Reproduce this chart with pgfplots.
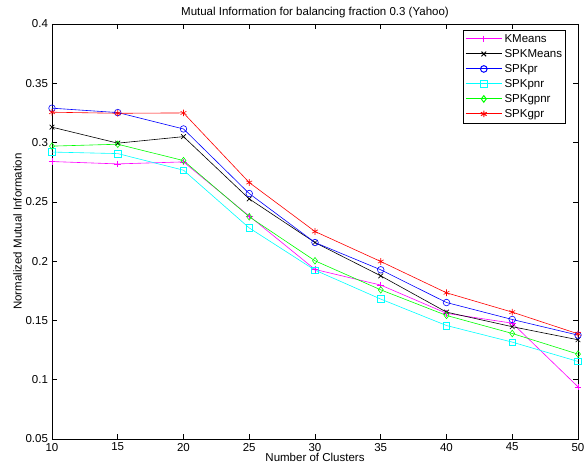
\documentclass[border=0pt]{standalone}
\usepackage{fontspec}
\setmainfont{Liberation Sans}
\usepackage{pgfplots}
\pgfplotsset{compat=1.18}
\definecolor{matmagenta}{RGB}{255,0,255}
\definecolor{matcyan}{RGB}{0,255,255}
\definecolor{matgreen}{RGB}{0,255,0}
\definecolor{matblue}{RGB}{0,0,255}
\definecolor{matred}{RGB}{255,0,0}
\begin{document}
\fontsize{11.5}{13.5}\selectfont
\begin{tikzpicture}
\useasboundingbox (-52pt,-37pt) rectangle (535pt,439pt);
\begin{axis}[
  at={(0pt,0pt)}, anchor=south west,
  scale only axis, width=526pt, height=415pt,
  xmin=10, xmax=50, ymin=0.05, ymax=0.4,
  xtick={10,15,...,50},
  ytick={0.05,0.1,0.15,0.2,0.25,0.3,0.35,0.4},
  yticklabels={0.05,0.1,0.15,0.2,0.25,0.3,0.35,0.4},
  tick align=inside, major tick length=5pt,
  xtick pos=both, ytick pos=both,
  axis line style={line width=0.9pt},
  every tick/.style={black, line width=0.6pt},
  /pgf/number format/assume math mode=true,
  tick label style={font=\fontsize{11.5}{13.5}\selectfont},
  title={Mutual Information for balancing fraction 0.3 (Yahoo)},
  title style={font=\fontsize{11.5}{13.5}\selectfont, yshift=-4pt},
  xlabel={Number of Clusters},
  ylabel={Normalized Mutual Information},
  label style={font=\fontsize{11.5}{13.5}\selectfont},
  xlabel style={yshift=6pt},
  ylabel style={yshift=-4pt},
  legend style={at={(1,1)}, anchor=north east, xshift=-12pt, yshift=-6pt,
    draw=black, line width=0.9pt, font=\fontsize{11.5}{13.5}\selectfont,
    row sep=0pt, inner sep=1.5pt,
    nodes={text height=8.5pt, text depth=2.5pt, inner sep=2pt}},
  legend cell align=left,
  legend image code/.code={\draw[line width=1pt, mark repeat=2,mark phase=2,#1] plot coordinates {(0cm,0.5pt) (0.64cm,0.5pt) (1.28cm,0.5pt)};},
  every axis plot/.append style={line width=0.6pt, mark size=3.3pt},
]
\addplot[color=matmagenta, mark=+, mark options={solid,matmagenta}] coordinates {(10,0.284) (15,0.282) (20,0.2837) (25,0.238) (30,0.193) (35,0.1798) (40,0.156) (45,0.1477) (50,0.094)};
\addplot[color=black, mark=x, mark options={solid,black}] coordinates {(10,0.313) (15,0.2995) (20,0.305) (25,0.2525) (30,0.2157) (35,0.1876) (40,0.157) (45,0.1447) (50,0.1337)};
\addplot[color=matblue, mark=o, mark options={solid,matblue}] coordinates {(10,0.329) (15,0.3253) (20,0.3115) (25,0.257) (30,0.2157) (35,0.1927) (40,0.1651) (45,0.1508) (50,0.1376)};
\addplot[color=matcyan, mark=square, mark options={solid,matcyan}] coordinates {(10,0.292) (15,0.2907) (20,0.2767) (25,0.228) (30,0.1924) (35,0.168) (40,0.1457) (45,0.1317) (50,0.1154)};
\addplot[color=matgreen, mark=diamond, mark options={solid,matgreen}] coordinates {(10,0.297) (15,0.2986) (20,0.2848) (25,0.2374) (30,0.2003) (35,0.1758) (40,0.1542) (45,0.139) (50,0.1216)};
\addplot[color=matred, mark=asterisk, mark options={solid,matred}] coordinates {(10,0.3256) (15,0.3247) (20,0.325) (25,0.2663) (30,0.225) (35,0.1997) (40,0.1733) (45,0.157) (50,0.1387)};
\legend{KMeans,SPKMeans,SPKpr,SPKpnr,SPKgpnr,SPKgpr}
\end{axis}
\end{tikzpicture}
\end{document}
